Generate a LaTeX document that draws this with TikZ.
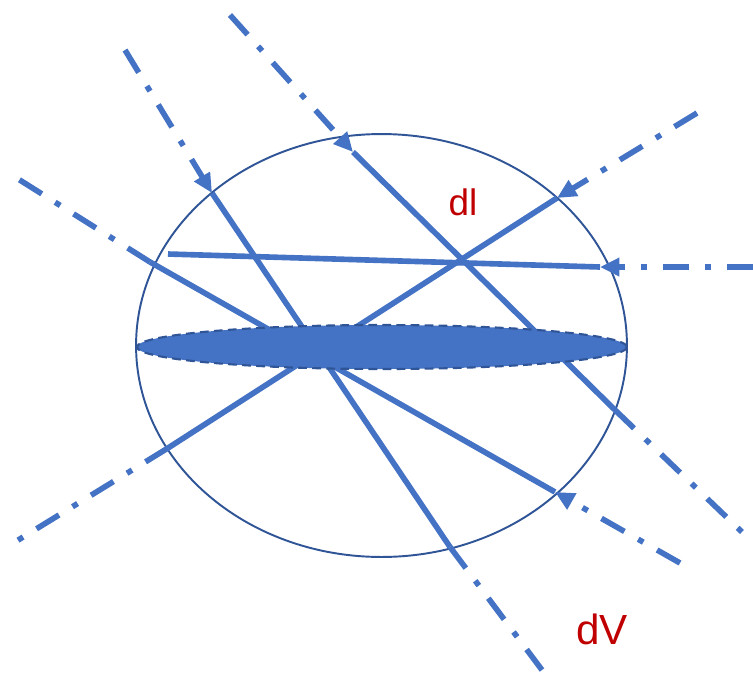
\documentclass[tikz,border=0pt]{standalone}
\usepackage{fontspec}
\setmainfont{Liberation Sans}
\usetikzlibrary{arrows.meta}
\definecolor{rayblue}{HTML}{4472C4}
\definecolor{rimblue}{HTML}{2F5597}
\definecolor{labelred}{HTML}{C00000}

\begin{document}
\begin{tikzpicture}[x=0.02cm,y=-0.02cm,
  ray/.style={rayblue,line width=3.2pt},
  rayout/.style={ray,dash pattern=on 15pt off 9pt on 3.4pt off 9pt},
  rayin/.style={rayout,-{Triangle[length=11pt,width=10pt]}},
  lbl/.style={labelred,font=\fontsize{21}{25}\selectfont,inner sep=0pt}]

\useasboundingbox (0,0) rectangle (753,684);

% Sphere
\draw[rimblue,line width=1.1pt] (381.5,345.5) ellipse [x radius=4.91cm,y radius=4.23cm];

% Points of the rays
\coordinate (aS) at (125,50);   \coordinate (aIn) at (212,193);
\coordinate (aOut) at (450,547); \coordinate (aE) at (542,670);
\coordinate (bS) at (230,15);   \coordinate (bIn) at (353,152);
\coordinate (bOut) at (615,410); \coordinate (bE) at (742,532);
\coordinate (cS) at (697,113);  \coordinate (cIn) at (557,198);
\coordinate (cOut) at (168,448); \coordinate (cE) at (15,542);
\coordinate (dS) at (753,267);  \coordinate (dIn) at (600,267);
\coordinate (dEnd) at (168,254);
\coordinate (eS) at (15,177);   \coordinate (eOut) at (150,262);
\coordinate (eIn) at (555,492); \coordinate (eE) at (680,563);

% Incoming parts
\draw[rayin] (aS) -- (aIn);
\draw[rayin] (bS) -- (bIn);
\draw[rayin] (cS) -- (cIn);
\draw[rayin] (dS) -- (dIn);
\draw[rayin] (eE) -- (eIn);

% Inside the sphere
\draw[ray] (aIn) -- (aOut);
\draw[ray] (bIn) -- (bOut);
\draw[ray] (cIn) -- (cOut);
\draw[ray] (dIn) -- (dEnd);
\draw[ray] (eOut) -- (eIn);

% Outgoing parts
\draw[rayout] (aOut) -- (aE);
\draw[rayout] (bOut) -- (bE);
\draw[rayout] (cOut) -- (cE);
\draw[rayout] (eOut) -- (eS);

% Disk
\draw[rimblue,fill=rayblue,line width=1.2pt,dash pattern=on 5pt off 3pt]
  (382,347) ellipse [x radius=4.9cm,y radius=0.44cm];

% Labels
\node[lbl] (dl) at (463,202) {dl};
\node[lbl,font=\fontsize{24}{28}\selectfont] (dV) at (602,629) {dV};

\end{tikzpicture}
\end{document}
